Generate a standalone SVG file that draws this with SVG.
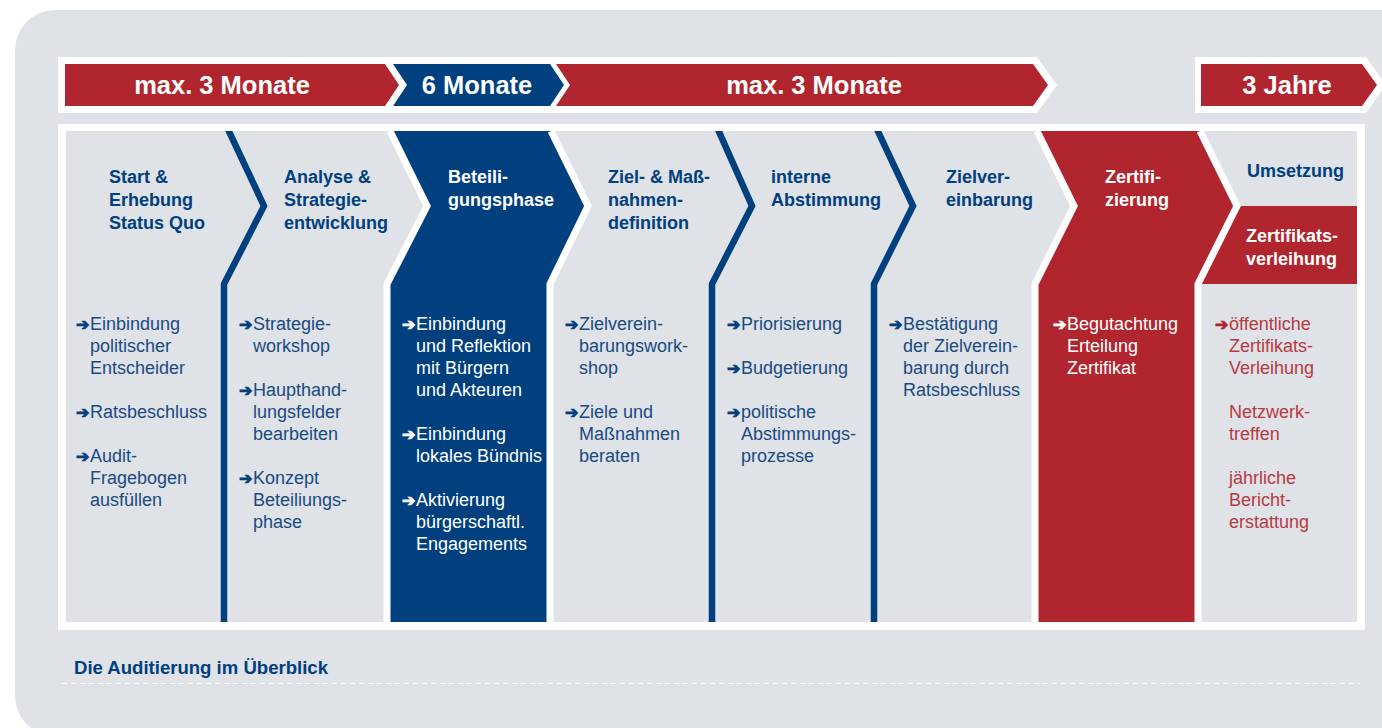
<svg xmlns="http://www.w3.org/2000/svg" width="1382" height="728" viewBox="0 0 1382 728">
<defs>
<style>
.top{font-family:"Liberation Sans",Arial,sans-serif;font-weight:bold;font-size:25.5px;fill:#ffffff;text-anchor:middle}
.h{font-family:"Liberation Sans",Arial,sans-serif;font-weight:bold;font-size:18px;fill:#00407e}
.hw{fill:#ffffff}
.b{font-family:"Liberation Sans",Arial,sans-serif;font-size:18px;fill:#1a4a82}
.bw{fill:#ffffff}
.br{fill:#b83a42}
.ar{font-family:"DejaVu Sans",sans-serif;font-size:16px;stroke-width:0.9}
.an{fill:#00407e;stroke:#00407e}
.aw{fill:#ffffff;stroke:#ffffff}
.arr{fill:#b1262e;stroke:#b1262e}
.nv{fill:none;stroke:#00407e;stroke-width:6.5;stroke-linejoin:miter}
.wt{fill:none;stroke:#ffffff;stroke-width:7;stroke-linejoin:miter}
</style>
<clipPath id="area"><rect x="66" y="131" width="1291" height="491"/></clipPath>
</defs>
<rect x="0" y="0" width="1382" height="728" fill="#ffffff"/>
<rect x="15" y="10" width="1410" height="726" rx="40" fill="#dfe2e7"/>

<g id="timeline">
<polygon points="58,57 1037,57 1057,85 1037,113 58,113" fill="#ffffff"/>
<polygon points="1195,57 1366,57 1386,85 1366,113 1195,113" fill="#ffffff"/>
<polygon points="65,64 385,64 399,85 385,106 65,106" fill="#b1262e"/>
<polygon points="393,64 550,64 564,85 550,106 393,106 407,85" fill="#00407e"/>
<polygon points="556,64 1033,64 1048,85 1033,106 556,106 570,85" fill="#b1262e"/>
<polygon points="1201,64 1362,64 1377,85 1362,106 1201,106" fill="#b1262e"/>
<text class="top" x="222" y="94">max. 3 Monate</text>
<text class="top" x="477" y="94">6 Monate</text>
<text class="top" x="814" y="94">max. 3 Monate</text>
<text class="top" x="1287" y="94">3 Jahre</text>
</g>

<rect x="58" y="124" width="1307" height="506" fill="#ffffff"/>
<rect x="66" y="131" width="1291" height="491" fill="#dfe2e7"/>

<g id="col3-shape"><polygon points="390,131 551,131 588,206 550,284 550,622 387,622 387,284 427,206" fill="#00407e"/></g>
<g id="col7-shape"><polygon points="1037,131 1200,131 1237,206 1198,284 1198,622 1035,622 1035,284 1074,206" fill="#b1262e"/></g>
<g id="col8-shape"><polygon points="1237,206 1357,206 1357,284 1198,284" fill="#b1262e"/></g>

<g id="dividers" clip-path="url(#area)">
<polyline class="wt" points="390,131 427,206 387,284 387,630"/>
<polyline class="wt" points="551,131 588,206 550,284 550,630"/>
<polyline class="wt" points="1037,131 1074,206 1035,284 1035,630"/>
<polyline class="wt" points="1200,131 1237,206 1198,284 1198,630"/>
<polyline class="nv" points="226,125 264,206 224,284 224,630"/>
<polyline class="nv" points="716,125 752,206 712,284 712,630"/>
<polyline class="nv" points="875,125 913,206 874,284 874,630"/>
</g>

<g id="col1">
<text class="h" x="109" y="183">Start &amp;</text>
<text class="h" x="109" y="206">Erhebung</text>
<text class="h" x="109" y="229">Status Quo</text>
<g class="b">
<text class="ar an" x="76" y="330">➔</text>
<text x="90" y="330">Einbindung</text>
<text x="90" y="352">politischer</text>
<text x="90" y="374">Entscheider</text>
<text class="ar an" x="76" y="418">➔</text>
<text x="90" y="418">Ratsbeschluss</text>
<text class="ar an" x="76" y="462">➔</text>
<text x="90" y="462">Audit-</text>
<text x="90" y="484">Fragebogen</text>
<text x="90" y="506">ausfüllen</text>
</g>
</g>

<g id="col2">
<text class="h" x="284" y="183">Analyse &amp;</text>
<text class="h" x="284" y="206">Strategie-</text>
<text class="h" x="284" y="229">entwicklung</text>
<g class="b">
<text class="ar an" x="239" y="330">➔</text>
<text x="253" y="330">Strategie-</text>
<text x="253" y="352">workshop</text>
<text class="ar an" x="239" y="396">➔</text>
<text x="253" y="396">Haupthand-</text>
<text x="253" y="418">lungsfelder</text>
<text x="253" y="440">bearbeiten</text>
<text class="ar an" x="239" y="484">➔</text>
<text x="253" y="484">Konzept</text>
<text x="253" y="506">Beteiliungs-</text>
<text x="253" y="528">phase</text>
</g>
</g>

<g id="col3">
<text class="h hw" x="448" y="183">Beteili-</text>
<text class="h hw" x="448" y="206">gungsphase</text>
<g class="b bw">
<text class="ar aw" x="402" y="330">➔</text>
<text class="bw" x="416" y="330">Einbindung</text>
<text class="bw" x="416" y="352">und Reflektion</text>
<text class="bw" x="416" y="374">mit Bürgern</text>
<text class="bw" x="416" y="396">und Akteuren</text>
<text class="ar aw" x="402" y="440">➔</text>
<text class="bw" x="416" y="440">Einbindung</text>
<text class="bw" x="416" y="462">lokales Bündnis</text>
<text class="ar aw" x="402" y="506">➔</text>
<text class="bw" x="416" y="506">Aktivierung</text>
<text class="bw" x="416" y="528">bürgerschaftl.</text>
<text class="bw" x="416" y="550">Engagements</text>
</g>
</g>

<g id="col4">
<text class="h" x="608" y="183">Ziel- &amp; Maß-</text>
<text class="h" x="608" y="206">nahmen-</text>
<text class="h" x="608" y="229">definition</text>
<g class="b">
<text class="ar an" x="565" y="330">➔</text>
<text x="579" y="330">Zielverein-</text>
<text x="579" y="352">barungswork-</text>
<text x="579" y="374">shop</text>
<text class="ar an" x="565" y="418">➔</text>
<text x="579" y="418">Ziele und</text>
<text x="579" y="440">Maßnahmen</text>
<text x="579" y="462">beraten</text>
</g>
</g>

<g id="col5">
<text class="h" x="771" y="183">interne</text>
<text class="h" x="771" y="206">Abstimmung</text>
<g class="b">
<text class="ar an" x="727" y="330">➔</text>
<text x="741" y="330">Priorisierung</text>
<text class="ar an" x="727" y="374">➔</text>
<text x="741" y="374">Budgetierung</text>
<text class="ar an" x="727" y="418">➔</text>
<text x="741" y="418">politische</text>
<text x="741" y="440">Abstimmungs-</text>
<text x="741" y="462">prozesse</text>
</g>
</g>

<g id="col6">
<text class="h" x="946" y="183">Zielver-</text>
<text class="h" x="946" y="206">einbarung</text>
<g class="b">
<text class="ar an" x="889" y="330">➔</text>
<text x="903" y="330">Bestätigung</text>
<text x="903" y="352">der Zielverein-</text>
<text x="903" y="374">barung durch</text>
<text x="903" y="396">Ratsbeschluss</text>
</g>
</g>

<g id="col7">
<text class="h hw" x="1105" y="183">Zertifi-</text>
<text class="h hw" x="1105" y="206">zierung</text>
<g class="b">
<text class="ar aw" x="1053" y="330">➔</text>
<text class="bw" x="1067" y="330">Begutachtung</text>
<text class="bw" x="1067" y="352">Erteilung</text>
<text class="bw" x="1067" y="374">Zertifikat</text>
</g>
</g>

<g id="col8">
<text class="h" x="1247" y="177">Umsetzung</text>
<text class="h hw" x="1246" y="242">Zertifikats-</text>
<text class="h hw" x="1246" y="265">verleihung</text>
<g class="b">
<text class="ar arr" x="1215" y="330">➔</text>
<text class="br" x="1229" y="330">öffentliche</text>
<text class="br" x="1229" y="352">Zertifikats-</text>
<text class="br" x="1229" y="374">Verleihung</text>
<text class="br" x="1229" y="418">Netzwerk-</text>
<text class="br" x="1229" y="440">treffen</text>
<text class="br" x="1229" y="484">jährliche</text>
<text class="br" x="1229" y="506">Bericht-</text>
<text class="br" x="1229" y="528">erstattung</text>
</g>
</g>

<g id="caption">
<text x="74" y="674" font-family="Liberation Sans, Arial, sans-serif" font-weight="bold" font-size="18" fill="#00407e" textLength="254" lengthAdjust="spacingAndGlyphs">Die Auditierung im Überblick</text>
<line x1="62" y1="683.5" x2="1360" y2="683.5" stroke="#ffffff" stroke-width="1" stroke-dasharray="5,4"/>
</g>
</svg>
